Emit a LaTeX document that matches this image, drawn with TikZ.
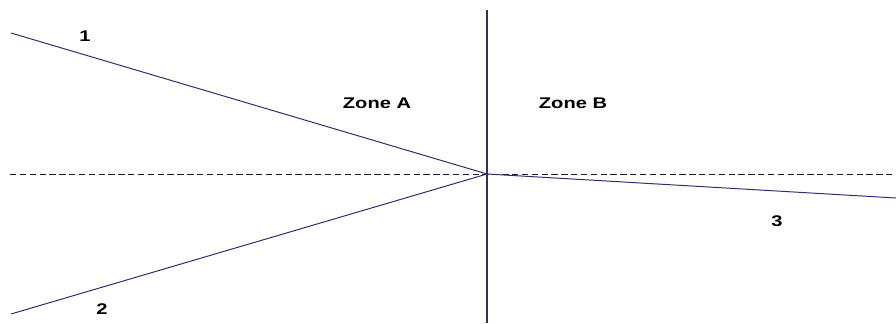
\documentclass[tikz,border=0pt]{standalone}
\usepackage{fontspec}
\setmainfont{Liberation Sans}
\newfontfamily\zonefont[FakeStretch=1.3]{Liberation Sans}
\usepackage{tikz}
\usetikzlibrary{positioning}
\definecolor{linenavy}{RGB}{45,45,115}
\definecolor{axisslate}{RGB}{50,50,85}
\definecolor{dashnavy}{RGB}{25,25,60}

\begin{document}
\begin{tikzpicture}[x=0.025cm, y=-0.025cm,
Zline/.style={draw=linenavy, line width=0.7pt},
Axisline/.style={draw=axisslate, line width=0.8pt},
Dashline/.style={draw=dashnavy, line width=0.6pt, dash pattern=on 4.5pt off 2.5pt},
Zlabel/.style={font=\zonefont\bfseries\fontsize{11}{13}\selectfont, inner sep=0pt}
]
\useasboundingbox (0,0) rectangle (896,323);
%Points
\coordinate (O) at (487,174);
\coordinate (L1) at (11,33);
\coordinate (L2) at (11,314);
\coordinate (L3) at (896,198);
\coordinate (Vtop) at (487,10);
\coordinate (Vbot) at (487,323);
\coordinate (Hleft) at (10,174);
\coordinate (Hright) at (896,174);

%Labels
\node[Zlabel] (T1) at (85,36) {1};
\node[Zlabel] (T2) at (102,309) {2};
\node[Zlabel] (T3) at (777,221) {3};
\node[Zlabel] (ZA) at (377,103) {Zone A};
\node[Zlabel] (ZB) at (573,103) {Zone B};

%Lines
\draw[Dashline] (Hleft) -- (Hright);
\draw[Axisline] (Vtop) -- (Vbot);
\draw[Zline] (L1) -- (O);
\draw[Zline] (L2) -- (O);
\draw[Zline] (O) -- (L3);
\end{tikzpicture}
\end{document}
